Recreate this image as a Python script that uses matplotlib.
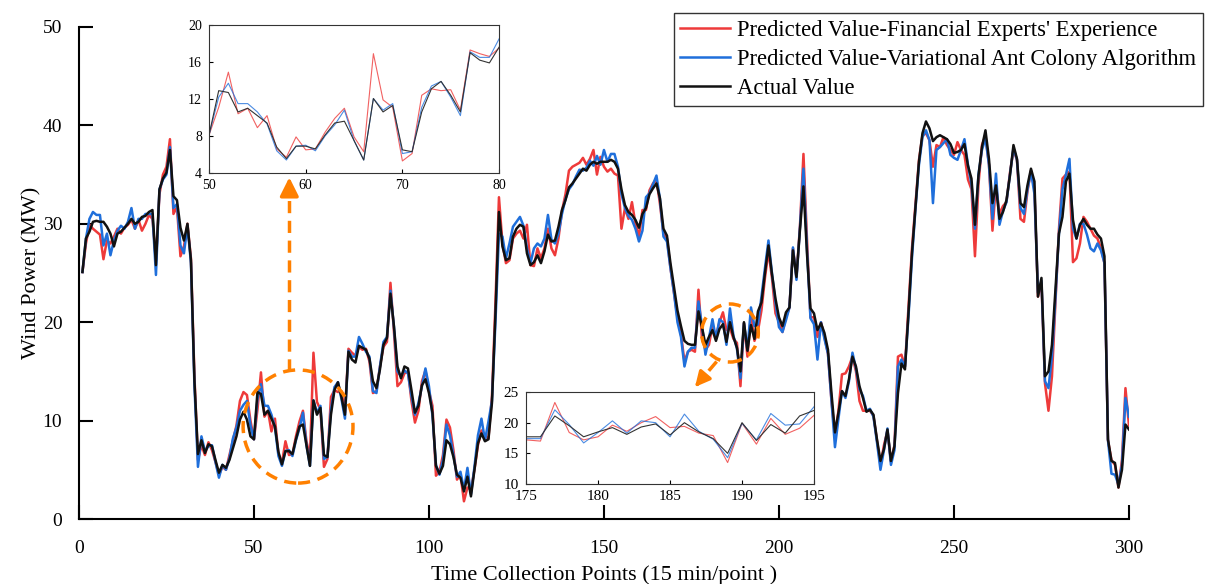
import numpy as np
import matplotlib
matplotlib.use('Agg')
import matplotlib.pyplot as plt
from matplotlib.patches import Ellipse

plt.rcParams['font.family'] = ['Liberation Serif', 'DejaVu Serif']

points = np.arange(1, 301)

actual = [
    25.1, 28.5, 29.2, 30.2, 30.3, 30.2, 30.2, 29.7, 29.0, 27.7,
    29.0, 29.2, 29.6, 30.0, 30.5, 30.0, 30.2, 30.7, 30.8, 31.2,
    31.4, 25.8, 33.5, 34.6, 35.2, 37.5, 32.8, 32.4, 29.6, 28.3,
    30.0, 26.3, 14.0, 6.6, 8.0, 6.7, 7.6, 7.4, 6.0, 4.7,
    5.5, 5.2, 6.0, 7.2, 8.4, 10.1, 10.9, 10.1, 8.4, 8.1,
    12.9, 12.7, 10.6, 11.0, 10.2, 9.4, 6.8, 5.55, 6.9, 6.9,
    6.6, 8.1, 9.4, 9.6, 7.5, 5.4, 12.05, 10.6, 11.3, 6.5,
    6.3, 10.6, 13.1, 13.9, 12.4, 10.6, 17.0, 16.2, 15.9, 17.6,
    17.4, 17.2, 16.3, 14.0, 13.3, 15.2, 17.7, 18.4, 22.9, 19.6,
    15.5, 14.3, 15.5, 15.3, 13.1, 10.8, 11.5, 13.6, 14.2, 12.8,
    10.8, 5.4, 4.6, 5.4, 8.0, 7.6, 6.3, 4.5, 4.2, 2.8,
    4.3, 2.3, 5.0, 7.7, 8.7, 7.9, 8.1, 11.8, 20.9, 31.2,
    27.7, 26.3, 26.5, 28.7, 29.5, 29.9, 29.7, 27.0, 25.8, 26.1,
    26.8, 26.0, 27.2, 28.9, 28.2, 28.3, 29.7, 31.4, 32.4, 33.7,
    34.1, 34.6, 35.1, 35.6, 35.4, 36.0, 36.3, 36.1, 36.3, 36.3,
    36.3, 36.5, 36.3, 35.6, 33.5, 31.9, 31.2, 30.9, 30.4, 29.6,
    31.0, 31.6, 33.0, 33.6, 34.1, 32.6, 29.5, 28.8, 26.0, 23.6,
    21.2, 19.6, 18.1, 17.8, 17.7, 17.7, 21.1, 19.5, 17.7, 18.5,
    19.2, 18.1, 19.3, 19.8, 18.0, 20.0, 18.5, 17.4, 15.0, 20.0,
    17.1, 19.7, 18.3, 21.1, 22.0, 25.0, 27.8, 24.9, 22.4, 20.5,
    19.6, 21.0, 21.5, 27.3, 24.6, 29.4, 33.8, 27.0, 21.4, 20.9,
    19.2, 19.9, 18.9, 17.2, 12.8, 8.8, 10.8, 13.0, 12.5, 14.2,
    16.5, 15.5, 13.5, 12.3, 10.9, 11.1, 10.6, 8.1, 5.9, 7.1,
    9.1, 5.9, 7.4, 12.8, 15.8, 15.2, 20.9, 27.0, 31.7, 36.3,
    39.2, 40.4, 39.7, 38.4, 38.8, 39.0, 38.8, 38.6, 38.1, 37.2,
    37.3, 37.5, 38.1, 35.9, 34.6, 29.9, 34.9, 37.8, 39.5, 36.6,
    32.1, 33.9, 30.5, 31.2, 32.4, 34.9, 38.0, 36.6, 32.1, 31.7,
    33.9, 35.6, 34.3, 22.6, 24.5, 14.5, 15.0, 17.7, 23.3, 29.0,
    30.7, 34.3, 35.1, 30.4, 28.5, 29.9, 30.5, 29.9, 29.5, 29.5,
    28.9, 28.5, 26.7, 8.1, 5.9, 5.7, 3.2, 5.0, 9.6, 9.1,
]

expert = [
    25.1, 28.0, 29.9, 29.5, 29.2, 28.9, 26.4, 28.3, 28.0, 28.7,
    29.5, 29.0, 29.6, 29.9, 30.4, 29.5, 30.4, 29.3, 30.0, 30.9,
    30.5, 26.3, 33.0, 35.0, 35.8, 38.6, 31.0, 31.7, 26.7, 27.7,
    30.0, 26.5, 14.5, 6.0, 7.5, 6.5, 7.8, 7.0, 5.8, 4.5,
    5.3, 5.0, 6.5, 8.0, 9.5, 12.0, 12.9, 12.6, 10.0, 8.1,
    11.1, 14.9, 10.4, 11.0, 8.9, 10.2, 6.6, 5.7, 7.9, 6.5,
    6.6, 8.4, 9.9, 11.0, 7.9, 6.3, 16.9, 11.9, 11.1, 5.3,
    6.1, 12.4, 13.1, 12.9, 13.0, 10.8, 17.3, 16.9, 16.6, 17.5,
    17.2, 17.3, 16.0, 12.8, 13.0, 15.5, 17.5, 18.0, 24.0, 19.0,
    13.5, 13.9, 14.8, 15.0, 12.0, 9.8, 11.0, 14.0, 15.1, 13.0,
    11.5, 4.4, 4.8, 6.5, 10.1, 9.3, 7.0, 4.0, 4.5, 1.8,
    3.2, 3.0, 5.0, 7.5, 9.0, 8.4, 8.2, 12.5, 22.0, 32.7,
    28.0, 26.0, 26.3, 28.5, 29.0, 29.3, 28.5, 29.9, 25.8, 25.7,
    27.5, 26.5, 27.5, 29.5, 27.5, 26.8, 28.5, 31.3, 33.0, 35.4,
    35.8, 36.0, 36.2, 36.7, 36.0, 36.6, 37.5, 35.0, 36.8, 35.8,
    35.3, 35.6, 35.1, 34.9, 29.5, 31.6, 30.5, 32.2, 30.0, 28.7,
    31.4, 31.4, 33.4, 34.1, 34.5, 32.0, 29.0, 28.5, 25.5, 23.0,
    20.5, 18.8, 16.0, 17.0, 17.2, 17.0, 23.3, 18.4, 17.2, 17.7,
    19.6, 18.6, 20.0, 21.0, 19.2, 19.4, 18.3, 17.9, 13.5, 19.9,
    16.5, 20.7, 18.1, 19.1, 21.2, 24.5, 27.2, 24.5, 20.9, 20.0,
    19.0, 20.5, 21.5, 27.5, 24.5, 29.8, 37.1, 28.5, 20.5, 20.5,
    18.5, 20.0, 18.5, 16.8, 12.0, 8.5, 11.0, 14.7, 14.8, 15.5,
    16.5, 15.0, 12.0, 11.0, 11.0, 11.0, 10.5, 8.0, 5.5, 7.5,
    9.0, 5.8, 7.5, 16.5, 16.7, 15.5, 21.5, 27.5, 32.0, 36.5,
    39.0, 39.2, 38.5, 35.8, 38.0, 37.8, 38.8, 38.0, 37.5, 37.0,
    38.3, 37.5, 37.0, 34.5, 33.5, 26.7, 34.0, 38.0, 39.0, 36.0,
    29.3, 34.0, 31.0, 31.8, 32.2, 35.2, 37.5, 36.5, 30.5, 30.2,
    33.3, 35.4, 33.5, 22.6, 24.0, 13.8, 11.0, 14.5, 22.0, 29.5,
    34.6, 35.0, 35.3, 26.1, 26.5, 28.0, 30.7, 30.2, 29.5, 28.8,
    28.5, 27.5, 26.0, 8.0, 6.0, 5.5, 3.2, 6.0, 13.3, 9.5,
]

ant_colony = [
    25.1, 28.5, 30.5, 31.2, 30.9, 30.9, 27.8, 29.0, 26.8, 28.3,
    29.3, 29.8, 29.5, 30.2, 31.6, 29.5, 30.5, 30.5, 31.0, 31.0,
    31.0, 24.8, 33.5, 34.5, 35.0, 37.8, 31.6, 32.0, 27.8, 27.0,
    29.8, 26.0, 13.5, 5.3, 8.4, 6.9, 7.4, 7.5, 5.8, 4.2,
    5.5, 5.0, 6.2, 8.2, 9.3, 11.0, 11.6, 12.0, 9.5, 8.1,
    12.2, 13.7, 11.5, 11.5, 10.6, 9.3, 6.4, 5.4, 6.9, 7.0,
    6.4, 8.0, 9.2, 10.8, 7.5, 5.4, 12.05, 10.8, 11.5, 6.1,
    6.3, 11.1, 13.4, 13.9, 12.2, 10.2, 17.1, 16.5, 16.5, 18.5,
    17.8, 17.0, 16.5, 13.0, 12.8, 15.5, 18.0, 18.5, 23.2, 19.5,
    15.0, 14.5, 15.1, 14.8, 12.5, 10.6, 11.8, 13.5, 15.3, 13.5,
    10.5, 5.5, 4.5, 6.0, 9.6, 8.5, 6.5, 4.3, 4.8, 3.0,
    5.2, 2.5, 5.3, 8.5, 10.2, 8.0, 9.9, 12.0, 20.0, 29.0,
    28.7, 26.5, 28.0, 29.7, 30.2, 30.7, 29.8, 27.5, 26.0, 27.5,
    28.0, 27.7, 28.5, 30.9, 28.4, 28.0, 29.0, 31.0, 32.5, 33.5,
    34.0, 34.8, 35.5, 35.4, 35.7, 36.4, 35.9, 36.9, 36.0, 37.5,
    36.3, 37.1, 37.1, 35.8, 33.0, 31.6, 30.8, 30.4, 29.5, 28.2,
    29.3, 32.7, 33.1, 34.0, 34.9, 32.5, 28.7, 28.2, 25.5, 23.0,
    20.0, 18.5, 15.5, 17.0, 17.4, 17.4, 22.1, 19.7, 16.7, 18.4,
    20.3, 18.3, 20.3, 20.0, 17.7, 21.4, 18.6, 17.3, 14.3, 19.9,
    17.2, 21.5, 19.6, 19.8, 22.6, 25.5, 28.3, 25.0, 22.0, 19.5,
    19.0, 20.2, 21.5, 27.6, 24.3, 29.6, 35.6, 27.5, 20.4, 19.8,
    16.2, 20.0, 18.3, 16.8, 12.0, 7.3, 10.2, 13.0, 12.3, 14.0,
    16.9, 15.3, 13.2, 12.5, 11.0, 11.2, 10.4, 7.8, 5.0, 7.0,
    9.2, 5.5, 7.0, 15.5, 16.2, 15.5, 20.5, 26.5, 31.5, 36.0,
    38.8, 39.5, 38.5, 32.1, 37.5, 37.8, 38.2, 38.6, 37.0, 36.7,
    36.5, 37.5, 38.6, 36.0, 34.0, 29.5, 35.0, 37.5, 38.7, 36.0,
    30.5, 35.1, 29.9, 31.3, 32.2, 35.0, 37.7, 36.5, 31.6, 31.0,
    33.5, 35.3, 33.0, 23.0, 24.2, 14.0, 13.3, 16.5, 22.5, 29.0,
    33.5, 35.0, 36.6, 29.5, 28.5, 30.0, 30.0, 28.9, 27.5, 27.2,
    28.0, 27.3, 26.0, 8.0, 4.6, 4.5, 3.5, 5.5, 12.3, 10.4,
]

red = '#ee3a3a'
blue = '#1f6fdb'
black = '#111111'
orange = '#ff8000'

fig = plt.figure(figsize=(12.09, 5.84), dpi=100)
ax = fig.add_axes([0.0653, 0.1113, 0.8685, 0.8425])

ax.plot(points, expert, color=red, lw=1.8, label="Predicted Value-Financial Experts' Experience")
ax.plot(points, ant_colony, color=blue, lw=1.8, label='Predicted Value-Variational Ant Colony Algorithm')
ax.plot(points, actual, color=black, lw=1.8, label='Actual Value')

ax.set_xlim(0, 300)
ax.set_ylim(0, 50)
ax.set_xticks(range(0, 301, 50))
ax.set_yticks(range(0, 51, 10))
ax.spines[['top', 'right']].set_visible(False)
for s in ['left', 'bottom']:
    ax.spines[s].set_linewidth(1.5)
ax.tick_params(direction='in', length=10, width=1.5, labelsize=14)
ax.tick_params(axis='x', pad=15)
ax.tick_params(axis='y', pad=12)
ax.set_xlabel('Time Collection Points (15 min/point )', fontsize=16, labelpad=6)
ax.set_ylabel('Wind Power (MW)', fontsize=16, labelpad=1)

fig.legend(loc='upper right', bbox_to_anchor=(0.995, 0.978), fontsize=16.3,
           frameon=True, fancybox=False, edgecolor='#333333', framealpha=1,
           handlelength=2.2, handletextpad=0.3, labelspacing=0.36,
           borderpad=0.3, borderaxespad=0)

# orange markers pointing to the zoomed windows
ax.add_patch(Ellipse((62.6, 9.4), 31.4, 11.5, fill=False, ec=orange, lw=2.5,
                     ls=(0, (3.5, 2.2)), zorder=5))
ax.plot([60.1, 60.1], [15.0, 33.0], color=orange, lw=2.5, ls=(0, (3.5, 2.2)), zorder=5)
ax.annotate('', xy=(60.1, 35.0), xytext=(60.1, 33.0),
            arrowprops=dict(arrowstyle='-|>', color=orange, lw=2.5, mutation_scale=28), zorder=5)

ax.add_patch(Ellipse((186.0, 18.9), 16.2, 5.9, fill=False, ec=orange, lw=2.5,
                     ls=(0, (3.5, 2.2)), zorder=5))
ax.plot([182.2, 177.4], [16.0, 14.0], color=orange, lw=2.5, ls=(0, (3.5, 2.2)), zorder=5)
ax.annotate('', xy=(175.5, 13.2), xytext=(177.4, 14.0),
            arrowprops=dict(arrowstyle='-|>', color=orange, lw=2.5, mutation_scale=22), zorder=5)

# inset 1: points 50-80
ax1 = fig.add_axes([0.1729, 0.7038, 0.2399, 0.2534])
ax1.plot(points[49:80], expert[49:80], color=red, lw=0.8, alpha=0.8)
ax1.plot(points[49:80], ant_colony[49:80], color=blue, lw=0.8, alpha=0.8)
ax1.plot(points[49:80], actual[49:80], color='#333333', lw=0.8)
ax1.set_xlim(50, 80)
ax1.set_ylim(4, 20)
ax1.set_xticks([50, 60, 70, 80])
ax1.set_yticks([4, 8, 12, 16, 20])
ax1.tick_params(direction='in', length=3, width=0.8, labelsize=10)
ax1.tick_params(axis='x', pad=4)
ax1.tick_params(axis='y', pad=5)
for s in ax1.spines.values():
    s.set_linewidth(0.8)
    s.set_color('#333333')

# inset 2: points 175-195
ax2 = fig.add_axes([0.4351, 0.1712, 0.2382, 0.1575])
ax2.plot(points[174:195], expert[174:195], color=red, lw=0.8, alpha=0.8)
ax2.plot(points[174:195], ant_colony[174:195], color=blue, lw=0.8, alpha=0.8)
ax2.plot(points[174:195], actual[174:195], color='#333333', lw=0.8)
ax2.set_xlim(175, 195)
ax2.set_ylim(10, 25)
ax2.set_xticks([175, 180, 185, 190, 195])
ax2.set_yticks([10, 15, 20, 25])
ax2.tick_params(direction='in', length=3, width=0.8, labelsize=11)
ax2.tick_params(axis='x', pad=4)
ax2.tick_params(axis='y', pad=5)
for s in ax2.spines.values():
    s.set_linewidth(0.8)
    s.set_color('#333333')

fig.savefig('out.png', dpi=100)
